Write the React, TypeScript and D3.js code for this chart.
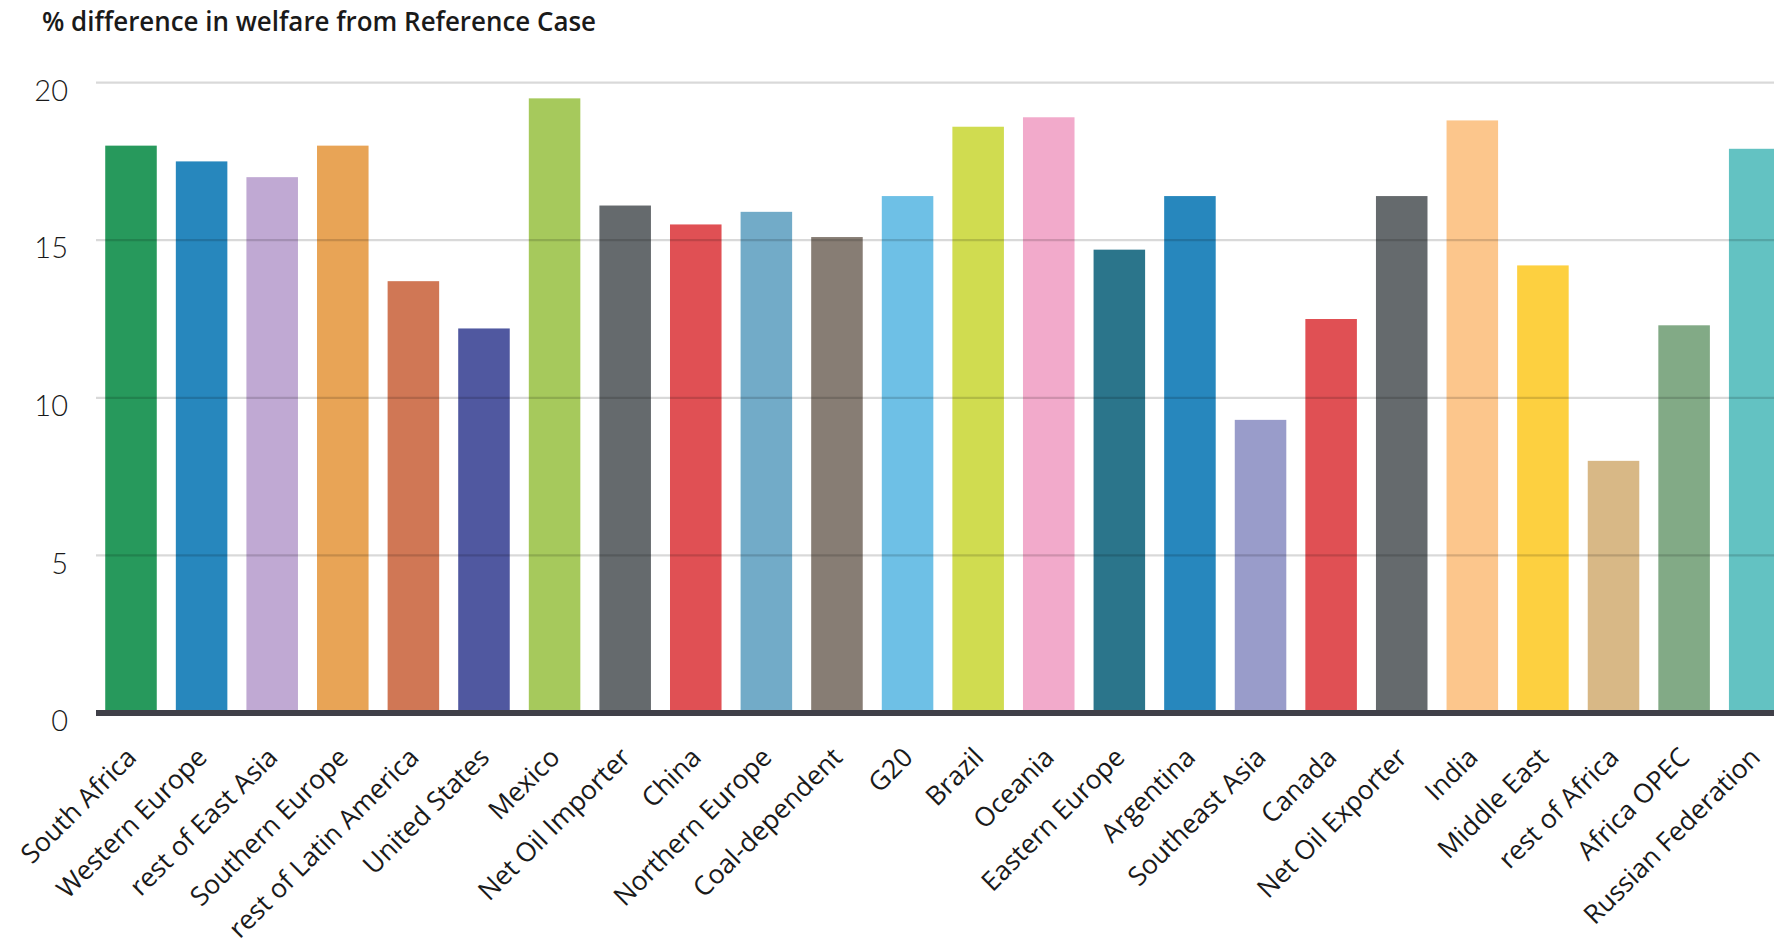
import React from "react";
import * as d3 from "d3";

const categories = [
  "South Africa", "Western Europe", "rest of East Asia", "Southern Europe",
  "rest of Latin America", "United States", "Mexico", "Net Oil Importer",
  "China", "Northern Europe", "Coal-dependent", "G20", "Brazil", "Oceania",
  "Eastern Europe", "Argentina", "Southeast Asia", "Canada", "Net Oil Exporter",
  "India", "Middle East", "rest of Africa", "Africa OPEC", "Russian Federation",
];

const values = [
  18.0, 17.5, 17.0, 18.0, 13.7, 12.2, 19.5, 16.1, 15.5, 15.9, 15.1, 16.4,
  18.6, 18.9, 14.7, 16.4, 9.3, 12.5, 16.4, 18.8, 14.2, 8.0, 12.3, 17.9,
];

const barColors = [
  "#27995c", "#2787bd", "#c0a9d3", "#e8a456", "#d07755", "#5058a0",
  "#a6c95c", "#656a6d", "#e05054", "#72abc8", "#877d74", "#6ec0e6",
  "#d0dc50", "#f2aacb", "#2b758b", "#2787bd", "#999cca", "#e05054",
  "#656a6d", "#fcc68c", "#fdd040", "#d8b886", "#82aa86", "#63c2c2",
];

const yTicks = [0, 5, 10, 15, 20];
const title = "% difference in welfare from Reference Case";

const W = 1774;
const H = 941;

if (typeof document !== "undefined") {
  document.body.style.margin = "0";
}

export default function App() {
  const x = d3
    .scaleBand<string>()
    .domain(categories)
    .range([95.7, 1790])
    .paddingInner(0.27)
    .paddingOuter(0.135);
  const y = d3.scaleLinear().domain([0, 20]).range([713, 82.6]);

  return (
    <svg width={W} height={H} style={{ display: "block", background: "#fff" }}>
      <text
        x={42}
        y={31}
        fontFamily="'Open Sans', sans-serif"
        fontWeight={600}
        fontSize={27}
        fill="#1a1a1a"
        textLength={554}
        lengthAdjust="spacingAndGlyphs"
      >
        {title}
      </text>

      {categories.map((c, i) => (
        <rect
          key={c}
          x={x(c)}
          y={y(values[i])}
          width={x.bandwidth()}
          height={y(0) - y(values[i])}
          fill={barColors[i]}
        />
      ))}

      {yTicks
        .filter((t) => t > 0)
        .map((t) => (
          <line
            key={"g" + t}
            x1={96}
            x2={W}
            y1={y(t)}
            y2={y(t)}
            stroke="#000"
            strokeOpacity={0.15}
            strokeWidth={2.2}
          />
        ))}

      <line x1={96} x2={W} y1={y(0)} y2={y(0)} stroke="#404048" strokeWidth={6} />

      {yTicks.map((t) => (
        <text
          key={"t" + t}
          x={68}
          y={y(t) + 11}
          textAnchor="end"
          dominantBaseline="middle"
          fontFamily="Lato, sans-serif"
          fontWeight={300}
          fontSize={29}
          fill="#1a1a1a"
        >
          {t}
        </text>
      ))}

      {categories.map((c) => {
        const cx = (x(c) as number) + x.bandwidth() / 2;
        return (
          <text
            key={"l" + c}
            transform={`translate(${cx + 7},${759}) rotate(-45)`}
            textAnchor="end"
            fontFamily="'Open Sans', sans-serif"
            fontSize={26.5}
            fill="#1a1a1a"
          >
            {c}
          </text>
        );
      })}
    </svg>
  );
}
